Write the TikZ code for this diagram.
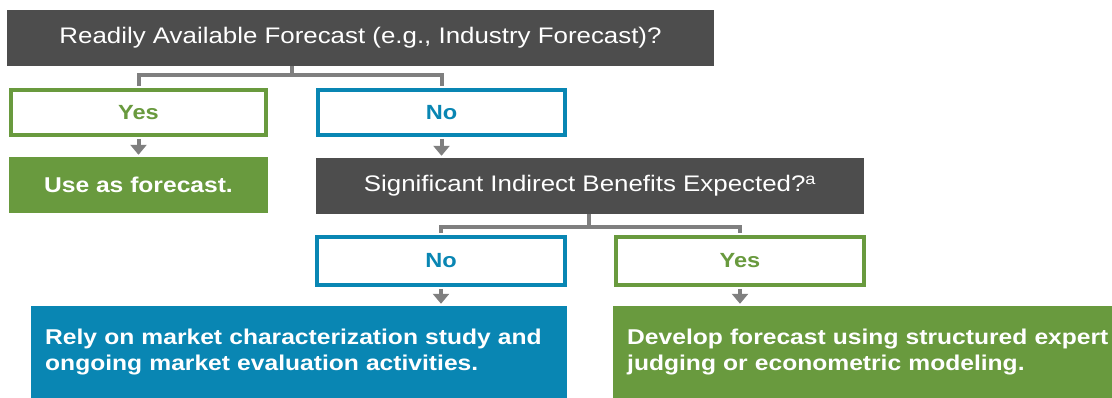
\documentclass[tikz,border=0pt]{standalone}
\usepackage{fontspec}
\setmainfont[FakeStretch=1.15]{Liberation Sans}
\usetikzlibrary{arrows.meta}
\definecolor{dgray}{HTML}{4D4D4D}
\definecolor{mgreen}{HTML}{699A3E}
\definecolor{mblue}{HTML}{0986B3}
\definecolor{cgray}{HTML}{7F7F7F}
\begin{document}
\begin{tikzpicture}[x=1pt,y=-1pt,
  question/.style={fill=dgray, text=white, inner sep=0pt, minimum height=56pt,
    font=\fontsize{22.5}{27}\selectfont},
  choice/.style={line width=4pt, fill=white, inner sep=0pt, minimum height=45pt,
    font=\fontsize{20.5}{24}\selectfont\bfseries},
  yesbox/.style={choice, draw=mgreen, text=mgreen},
  nobox/.style={choice, draw=mblue, text=mblue},
  result/.style={inner sep=0pt, text=white, font=\fontsize{21.4}{26.5}\selectfont\bfseries},
  bigresult/.style={result, anchor=west, inner xsep=14pt, text width=508pt, align=left, minimum height=92pt},
  conn/.style={draw=cgray, line width=4pt},
  arr/.style={conn, -{Triangle[width=16pt,length=10pt]}, shorten >=2pt, shorten <=2pt}
]
\useasboundingbox (0,0) rectangle (1112,398);

% first decision
\node[question, minimum width=707pt] (q1) at (360.5,38) {Readily Available Forecast (e.g., Industry Forecast)?};
\node[yesbox, minimum width=255pt] (yes1) at (138.5,112.5) {Yes};
\node[nobox, minimum width=247pt] (no1) at (441.5,112.5) {No};
\node[result, fill=mgreen, minimum width=259pt, minimum height=56pt] (use) at (138.5,185) {Use as forecast.};

% second decision
\node[question, minimum width=548pt] (q2) at (590,186) {Significant Indirect Benefits Expected?\textsuperscript{a}};
\node[nobox, minimum width=248pt, minimum height=48pt] (no2) at (441,261) {No};
\node[yesbox, minimum width=248pt, minimum height=48pt] (yes2) at (740,261) {Yes};
\node[bigresult, fill=mblue] (rely) at (31,352) {Rely on market characterization study and\\ongoing market evaluation activities.};
\node[bigresult, fill=mgreen] (dev) at (613,352) {Develop forecast using structured expert\\judging or econometric modeling.};

% connectors
\coordinate (s1) at (292,75);
\coordinate (s2) at (589,227);
\draw[conn] (s1 |- q1.south) -- (s1);
\draw[conn, shorten <=2pt, shorten >=2pt] (yes1.north) |- (s1) -| (no1.north);
\draw[arr] (yes1.south) -- (use.north);
\draw[arr] (no1.south) -- (no1.south |- q2.north);
\draw[conn] (s2 |- q2.south) -- (s2);
\draw[conn, shorten <=2pt, shorten >=2pt] (no2.north) |- (s2) -| (yes2.north);
\draw[arr] (no2.south) -- (no2.south |- rely.north);
\draw[arr] (yes2.south) -- (yes2.south |- dev.north);
\end{tikzpicture}
\end{document}
